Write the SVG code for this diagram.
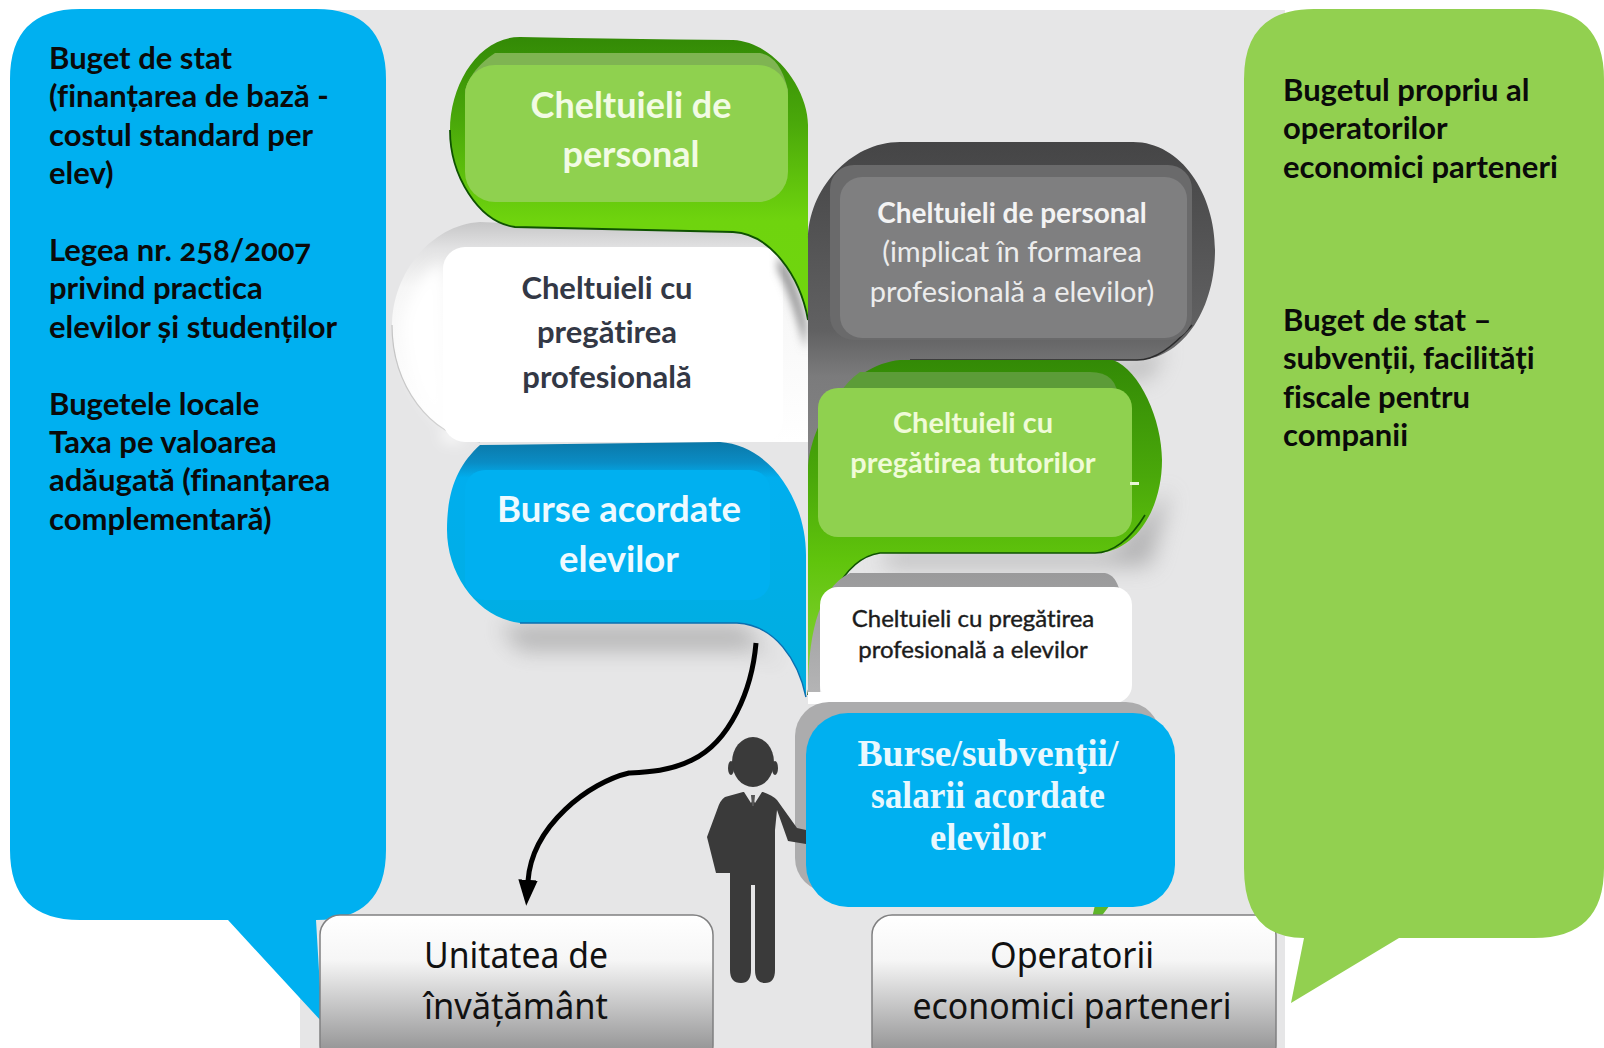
<svg xmlns="http://www.w3.org/2000/svg" width="1604" height="1048" viewBox="0 0 1604 1048">
<style>
.side{font:700 31px Lato,"Noto Sans",sans-serif;fill:#0a0a0a;font-variant-ligatures:none;font-variant-numeric:oldstyle-nums}
.h{font-family:Lato,"Noto Sans",sans-serif;font-weight:700;text-anchor:middle;font-variant-ligatures:none}
.hn{font-family:Lato,"Noto Sans",sans-serif;font-weight:400;text-anchor:middle;font-variant-ligatures:none}
.sr{font:700 38px "Liberation Serif","DejaVu Serif",serif;fill:#e9f8fe;text-anchor:middle}
.box{font:400 37px "Noto Sans",Lato,sans-serif;fill:#111;text-anchor:middle}
.in-g{fill:#8fd14f}
.small{fill:#1c1c1c;stroke:#1c1c1c;stroke-width:.4}
</style>
<defs>
<linearGradient id="g1" x1="0" y1="0" x2="0" y2="1"><stop offset="0" stop-color="#338a06"/><stop offset=".3" stop-color="#4aa80a"/><stop offset=".65" stop-color="#6fd40e"/><stop offset="1" stop-color="#70d60e"/></linearGradient>
<linearGradient id="g2" x1="0" y1="0" x2="0" y2="1"><stop offset="0" stop-color="#338a06"/><stop offset=".35" stop-color="#4aa80a"/><stop offset=".6" stop-color="#60c40c"/><stop offset="1" stop-color="#8cd43e"/></linearGradient>
<linearGradient id="gy" x1="0" y1="0" x2="0" y2="1"><stop offset="0" stop-color="#454546"/><stop offset=".5" stop-color="#616162"/><stop offset=".62" stop-color="#7b7b7c"/><stop offset="1" stop-color="#8a8a8b"/></linearGradient>
<linearGradient id="wh" x1="0" y1="0" x2="0" y2="1"><stop offset="0" stop-color="#c6c6c7"/><stop offset=".12" stop-color="#e2e2e3"/><stop offset=".3" stop-color="#f6f6f6"/><stop offset="1" stop-color="#fff"/></linearGradient>
<linearGradient id="bl" x1="0" y1="0" x2="0" y2="1"><stop offset="0" stop-color="#0b78a8"/><stop offset=".08" stop-color="#0a8cc4"/><stop offset=".14" stop-color="#00aeee"/><stop offset="1" stop-color="#00aede"/></linearGradient>
<linearGradient id="bx" x1="0" y1="0" x2="0" y2="1"><stop offset="0" stop-color="#fff"/><stop offset=".3" stop-color="#f6f6f6"/><stop offset="1" stop-color="#868687"/></linearGradient>
<linearGradient id="bar" x1="0" y1="0" x2="0" y2="1"><stop offset="0" stop-color="#9a9a9b"/><stop offset="1" stop-color="#b5b5b6"/></linearGradient>
<filter id="sh" x="-30%" y="-150%" width="160%" height="400%"><feGaussianBlur stdDeviation="11"/></filter>
<filter id="so" x="-30%" y="-30%" width="160%" height="160%"><feGaussianBlur stdDeviation="4"/></filter>
<filter id="wb" x="-10%" y="-10%" width="120%" height="120%"><feGaussianBlur stdDeviation="7"/></filter>
<marker id="ah" markerUnits="userSpaceOnUse" markerWidth="26" markerHeight="22" refX="1" refY="9" orient="auto" viewBox="0 0 24 18"><path d="M0 0L24 9L0 18Z" fill="#000"/></marker>
</defs>

<rect id="background" x="300" y="10" width="985" height="1038" fill="#e6e6e7"/>

<g id="callout-left">
<path d="M80 9H316Q386 9 386 79V850Q386 920 316 920L322 1022L228 920H80Q10 920 10 850V79Q10 9 80 9Z" fill="#00b0f0"/>
<text class="side" x="49" y="69">Buget de stat</text>
<text class="side" x="49" y="107">(finanțarea de bază -</text>
<text class="side" x="49" y="146">costul standard per</text>
<text class="side" x="49" y="184">elev)</text>
<text class="side" x="49" y="261">Legea nr. 258/2007</text>
<text class="side" x="49" y="299">privind practica</text>
<text class="side" x="49" y="338">elevilor și studenților</text>
<text class="side" x="49" y="415">Bugetele locale</text>
<text class="side" x="49" y="453">Taxa pe valoarea</text>
<text class="side" x="49" y="491">adăugată (finanțarea</text>
<text class="side" x="49" y="530">complementară)</text>
</g>

<g id="burse-stanga">
<path d="M500 625H745L778 668L770 650H520Z" fill="#777" filter="url(#sh)" opacity=".45"/>
<path d="M480 445L720 442C770 445 806 500 806 555V697C798 660 775 625 737 623H520C478 618 447 575 447 530C447 490 458 465 480 445Z" fill="url(#bl)"/>
<path d="M520 623H737C775 625 798 660 806 697" fill="none" stroke="#0a6fb0" stroke-width="1.5"/>
<rect x="465" y="470" width="305" height="130" rx="20" fill="#00b0f0"/>
<text class="h" x="619" y="522" font-size="36.5" fill="#eefaff">Burse acordate</text>
<text class="h" x="619" y="572" font-size="36.5" fill="#eefaff">elevilor</text>
</g>

<g id="pregatire-stanga">
<path d="M480 222L733 233C770 236 800 275 808 320V442H480C430 437 392 385 392 325C392 275 430 225 480 222Z" fill="url(#wh)"/>
<path d="M480 442C430 437 392 385 392 325" fill="none" stroke="#c4c4c4" stroke-width="1.2"/>
<path d="M470 442C430 425 405 380 403 325C405 300 425 270 443 262V442Z" fill="#fff" filter="url(#wb)"/>
<rect x="443" y="247" width="340" height="195" rx="22" fill="#fff"/>
<path d="M778 255C793 275 801 300 806 325V350C797 315 787 285 778 270Z" fill="#8a8a8b" filter="url(#so)"/>
<text class="h" x="607" y="299" font-size="31" fill="#333845">Cheltuieli cu</text>
<text class="h" x="607" y="343" font-size="31" fill="#333845">pregătirea</text>
<text class="h" x="607" y="388" font-size="31" fill="#333845">profesională</text>
</g>

<g id="personal-stanga">
<path d="M520 37Q620 39 733 40C775 42 808 90 808 125V320C800 275 770 234 733 232L515 227C478 222 450 175 450 130C450 85 478 37 520 37Z" fill="url(#g1)"/>
<path d="M808 320C800 275 770 234 733 232L515 227C478 222 450 175 450 130" fill="none" stroke="#0e5200" stroke-width="1.8"/>
<path d="M495 53H760Q780 56 788 90V120H465V90Q472 68 495 53Z" fill="#7fb452"/>
<rect x="465" y="65" width="323" height="137" rx="30" class="in-g"/>
<text class="h" x="631" y="118" font-size="36" fill="#f2fbe4">Cheltuieli de</text>
<text class="h" x="631" y="167" font-size="36" fill="#f2fbe4">personal</text>
</g>

<g id="personal-dreapta">
<path d="M930 362H1130L1165 345L1150 378H930Z" fill="#888" filter="url(#sh)" opacity=".5"/>
<path d="M900 142H1133C1182 142 1215 195 1215 250C1215 310 1182 360 1137 360H910C870 365 830 400 808 520V240C808 190 850 142 900 142Z" fill="url(#gy)"/>
<path d="M1192 325C1172 348 1155 360 1137 360H910" fill="none" stroke="#2c2c2d" stroke-width="1.5"/>
<rect x="830" y="165" width="362" height="175" rx="24" fill="#6a6a6b"/>
<rect x="840" y="177" width="347" height="161" rx="22" fill="#7f7f80"/>
<text class="h" x="1012" y="223" font-size="28" fill="#f3f3f3">Cheltuieli de personal</text>
<text class="hn" x="1012" y="262" font-size="29" fill="#ececec">(implicat în formarea</text>
<text class="hn" x="1012" y="302" font-size="29" fill="#ececec">profesională a elevilor)</text>
</g>

<g id="tutori-dreapta">
<path d="M885 552H1110L1170 490L1150 566H885Z" fill="#8a8a8b" filter="url(#sh)" opacity=".55"/>
<path d="M900 360H1113C1140 370 1162 420 1162 460C1162 510 1135 553 1095 553H880C845 558 820 600 808 695V470C810 420 850 365 900 360Z" fill="url(#g2)"/>
<path d="M1145 515C1130 540 1112 553 1095 553H880C845 558 820 600 808 695" fill="none" stroke="#0e5200" stroke-width="1.6"/>
<path d="M860 372H1090Q1118 372 1118 400V420H830Q835 390 860 372Z" fill="#5c9c38"/>
<rect x="818" y="388" width="314" height="149" rx="20" class="in-g"/>
<rect x="1130" y="482" width="9" height="3" fill="#e8f5d8"/>
<text class="h" x="973" y="433" font-size="29" fill="#f0fbd8">Cheltuieli cu</text>
<text class="h" x="973" y="473" font-size="29" fill="#f0fbd8">pregătirea tutorilor</text>
</g>

<g id="pregatire-dreapta">
<path d="M808 697C808 640 816 590 850 573H1105Q1116 575 1120 592V640H820V697Z" fill="url(#bar)"/>
<rect x="820" y="587" width="312" height="116" rx="18" fill="#fff"/>
<rect x="808" y="692" width="30" height="12" fill="#fff"/>
<text class="hn small" x="973" y="627" font-size="24">Cheltuieli cu pregătirea</text>
<text class="hn small" x="973" y="658" font-size="24">profesională a elevilor</text>
</g>

<g id="burse-dreapta">
<rect x="795" y="702" width="365" height="190" rx="34" fill="#acacad"/>
<path d="M1095 905H1110L1100 918H1092Z" fill="#5fb52a"/>
<rect x="806" y="713" width="369" height="194" rx="42" fill="#00b0f0"/>
<text class="sr" x="988" y="766" textLength="261" lengthAdjust="spacingAndGlyphs">Burse/subvenţii/</text>
<text class="sr" x="988" y="808" textLength="234" lengthAdjust="spacingAndGlyphs">salarii acordate</text>
<text class="sr" x="988" y="850" textLength="116" lengthAdjust="spacingAndGlyphs">elevilor</text>
</g>

<g id="persoana" fill="#3a3a3a">
<ellipse cx="753" cy="762" rx="21" ry="25"/>
<ellipse cx="731" cy="768" rx="3" ry="7"/><ellipse cx="775" cy="768" rx="3" ry="7"/>
<path d="M743 792L725 797Q720 800 717 810L707 837L716 873L730 873V970Q730 983 741 983Q751 983 751 970V885H755V970Q755 983 765 983Q775 983 775 970V830L777 810L788 841L806 844V830L797 828L777 800Q772 795 763 792Z"/>
<path d="M744 792L751 803L753 800L755 803L762 792Z" fill="#e6e6e7"/>
<path d="M751 795H755L754 806H752Z" fill="#555"/>
</g>

<g id="unitatea">
<rect x="320" y="915" width="393" height="150" rx="20" fill="url(#bx)" stroke="#808081" stroke-width="1.5"/>
<text class="box" x="516" y="968" textLength="184" lengthAdjust="spacingAndGlyphs">Unitatea de</text>
<text class="box" x="516" y="1019" textLength="184" lengthAdjust="spacingAndGlyphs">învățământ</text>
</g>

<g id="operatorii">
<rect x="872" y="915" width="404" height="150" rx="20" fill="url(#bx)" stroke="#808081" stroke-width="1.5"/>
<text class="box" x="1072" y="968" textLength="164" lengthAdjust="spacingAndGlyphs">Operatorii</text>
<text class="box" x="1072" y="1019" textLength="319" lengthAdjust="spacingAndGlyphs">economici parteneri</text>
</g>

<g id="callout-right">
<path d="M1314 9H1534Q1604 9 1604 79V868Q1604 938 1534 938H1399L1291 1003L1304 938Q1244 938 1244 868V79Q1244 9 1314 9Z" fill="#92d050"/>
<text class="side" x="1283" y="101">Bugetul propriu al</text>
<text class="side" x="1283" y="139">operatorilor</text>
<text class="side" x="1283" y="178">economici parteneri</text>
<text class="side" x="1283" y="331">Buget de stat –</text>
<text class="side" x="1283" y="369">subvenții, facilități</text>
<text class="side" x="1283" y="408">fiscale pentru</text>
<text class="side" x="1283" y="446">companii</text>
</g>

<g id="connectors">
<path d="M756 643C752 690 730 742 692 760C670 771 648 772 629 773C590 782 532 825 528 881" fill="none" stroke="#000" stroke-width="5" marker-end="url(#ah)"/>
</g>
</svg>
